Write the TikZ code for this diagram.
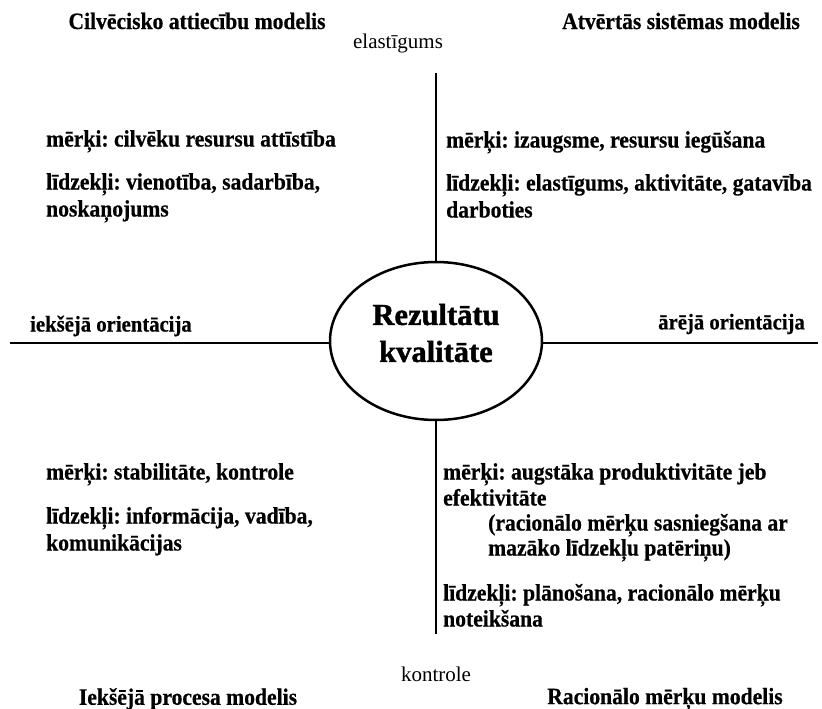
\documentclass[tikz,border=0pt]{standalone}
\usepackage{fontspec}
\setmainfont{Liberation Serif}
\newfontfamily\heavyfont[FakeBold=1.4]{Liberation Serif Bold}
\newfontfamily\bodyfont[FakeStretch=0.92,FakeBold=0.5]{Liberation Serif Bold}
\usetikzlibrary{shapes.geometric}
\frenchspacing

\tikzset{
  axis/.style={line width=2.8pt},
  core/.style={draw, ellipse, line width=2.5pt, minimum width=212pt, minimum height=158pt,
    inner sep=0pt},
  coretext/.style={inner sep=0pt, align=center, font=\fontsize{30.5}{37}\selectfont\heavyfont},
  heading/.style={inner sep=0pt, font=\fontsize{23.5}{27}\selectfont\bodyfont},
  axislabel/.style={inner sep=0pt, font=\fontsize{21}{26}\selectfont},
  orient/.style={inner sep=0pt, font=\fontsize{22.5}{26}\selectfont\bodyfont},
  body/.style={inner sep=0pt, anchor=west, text height=16pt, text depth=5pt,
    font=\fontsize{23.5}{27}\selectfont\bodyfont},
}

\begin{document}
\begin{tikzpicture}[x=1pt,y=-1pt]
  \useasboundingbox (0,0) rectangle (822,709);

  % central ellipse and its caption
  \node[core] (core) at (436,341) {};
  \node[coretext] (ctext) at ([yshift=8pt]core.center) {Rezultātu\\kvalitāte};

  % axes
  \coordinate (vtop) at (436,73);
  \coordinate (vbot) at (436,634);
  \coordinate (hleft) at (10,343);
  \coordinate (hright) at (818,343);
  \draw[axis] (vtop) -- (core.north);
  \draw[axis] (core.south) -- (vbot);
  \draw[axis] (hleft) -- (core.west |- hleft);
  \draw[axis] (core.east |- hright) -- (hright);

  % axis labels
  \node[axislabel] (elast) at (398,43) {elastīgums};
  \node[axislabel] (kontr) at (436,674) {kontrole};
  \node[orient, anchor=west] (iek) at (30,326) {iekšējā orientācija};
  \node[orient, anchor=east] (arej) at (805,324) {ārējā orientācija};

  % model names
  \node[heading] (m1) at (197,21) {Cilvēcisko attiecību modelis};
  \node[heading] (m2) at (681,21) {Atvērtās sistēmas modelis};
  \node[heading] (m3) at (188,699) {Iekšējā procesa modelis};
  \node[heading] (m4) at (665,699) {Racionālo mērķu modelis};

  % upper left quadrant
  \node[body] (ul1) at (46,141) {mērķi: cilvēku resursu attīstība};
  \node[body] (ul2) at (46,184) {līdzekļi: vienotība, sadarbība,};
  \node[body] (ul3) at (46,211) {noskaņojums};

  % upper right quadrant
  \node[body] (ur1) at (446,142) {mērķi: izaugsme, resursu iegūšana};
  \node[body] (ur2) at (446,185) {līdzekļi: elastīgums, aktivitāte, gatavība};
  \node[body] (ur3) at (446,212) {darboties};

  % lower left quadrant
  \node[body] (ll1) at (46,474) {mērķi: stabilitāte, kontrole};
  \node[body] (ll2) at (46,518) {līdzekļi: informācija, vadība,};
  \node[body] (ll3) at (46,545) {komunikācijas};

  % lower right quadrant
  \node[body] (lr1) at (443,474) {mērķi: augstāka produktivitāte jeb};
  \node[body] (lr2) at (443,500) {efektivitāte};
  \node[body] (lr3) at (488,525) {(racionālo mērķu sasniegšana ar};
  \node[body] (lr4) at (488,550) {mazāko līdzekļu patēriņu)};
  \node[body] (lr5) at (443,595) {līdzekļi: plānošana, racionālo mērķu};
  \node[body] (lr6) at (443,621) {noteikšana};
\end{tikzpicture}
\end{document}
